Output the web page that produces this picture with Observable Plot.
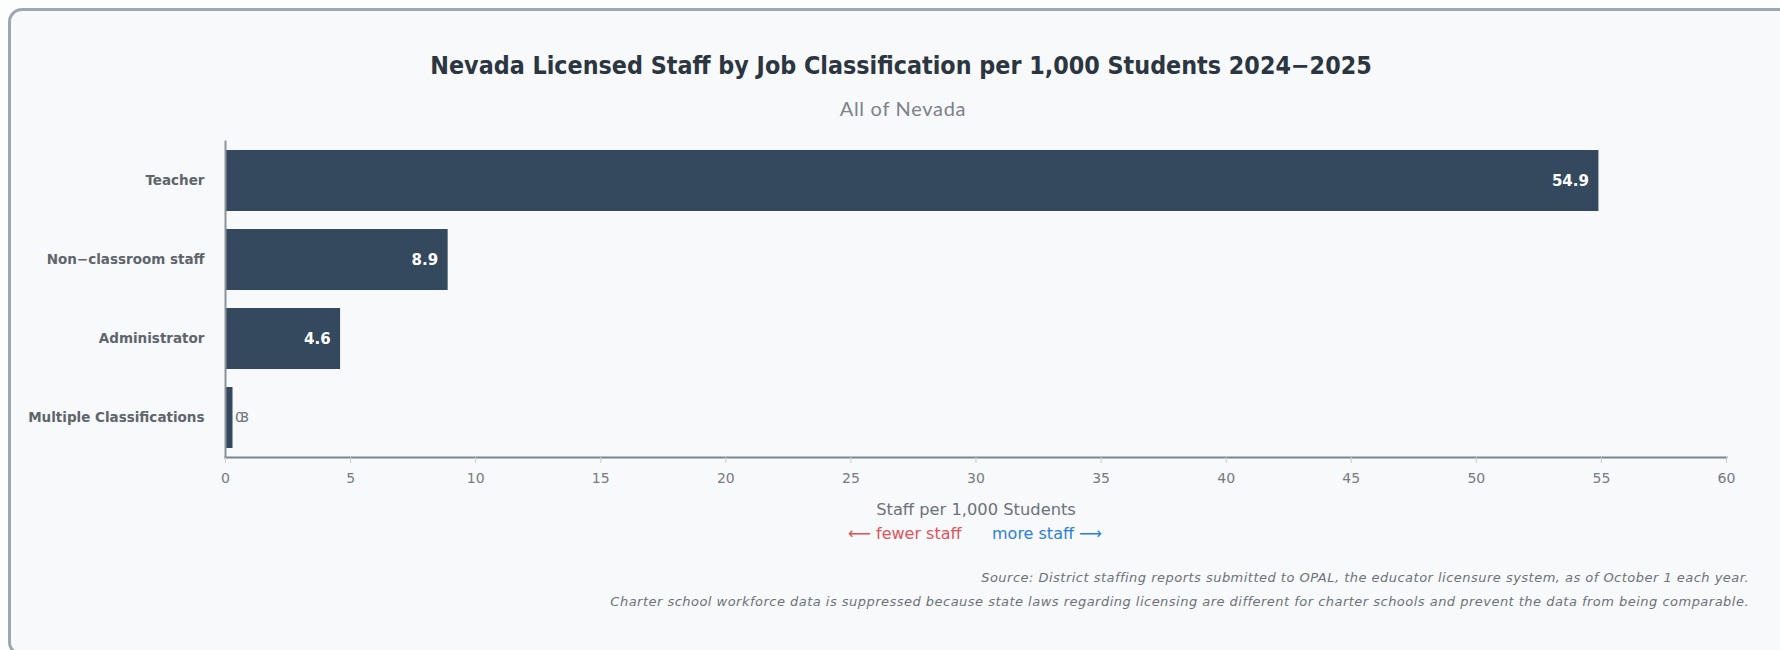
<!DOCTYPE html>
<html><head><meta charset="utf-8">
<script src="https://cdn.jsdelivr.net/npm/d3@7"></script>
<script src="https://cdn.jsdelivr.net/npm/@observablehq/plot@0.6"></script>
<style>
html,body{margin:0;padding:0;background:#fcfdfd;width:1780px;height:650px;overflow:hidden}
#card{position:absolute;left:8px;top:8px;width:1790px;height:648px;box-sizing:border-box;border:3px solid #a0a6ad;border-radius:14px;background:#f8f9fa}
.t{position:absolute;left:0;width:1780px;white-space:nowrap}
#title{top:51px;text-align:center;left:11px;font:bold 24.8px "DejaVu Sans Condensed","DejaVu Sans";color:#2c3640}
#sub{top:96px;text-align:center;left:13px;font:20px Lato;letter-spacing:.7px;color:#7c828a}
#dir{top:524px;left:0;font:16px "DejaVu Sans";}
#dir span{position:absolute;white-space:nowrap}
.c{font:italic 13px "DejaVu Sans";letter-spacing:.48px;color:#6c7279;text-align:right;left:auto;right:31px;width:auto}
#plot{position:absolute;left:0;top:121px}
.squeezed{letter-spacing:-4px}
</style></head><body>
<div id="card"></div>
<div class="t" id="title">Nevada Licensed Staff by Job Classification per 1,000 Students 2024−2025</div>
<div class="t" id="sub">All of Nevada</div>
<div id="plot"></div>
<div class="t" id="dir"><span style="left:848px;color:#e0535c">⟵ fewer staff</span><span style="left:992px;color:#2b7fd6">more staff ⟶</span></div>
<div class="t c" style="top:570px">Source: District staffing reports submitted to OPAL, the educator licensure system, as of October 1 each year.</div>
<div class="t c" style="top:594px">Charter school workforce data is suppressed because state laws regarding licensing are different for charter schools and prevent the data from being comparable.</div>
<script>
const categories = ["Teacher","Non−classroom staff","Administrator","Multiple Classifications"];
const values = [54.9,8.9,4.6,0.3];
const xTicks = [0,5,10,15,20,25,30,35,40,45,50,55,60];
const rows = categories.map((c,i)=>({c,v:values[i]}));
const chart = Plot.plot({
  width:1780,height:400,marginLeft:225,marginRight:54,marginTop:20,marginBottom:64,
  style:{background:"transparent",fontFamily:"DejaVu Sans",fontSize:"13.5px",color:"#6c7279",overflow:"visible"},
  x:{domain:[0,60]},
  y:{domain:categories,paddingInner:0.23,paddingOuter:0.115,label:null},
  marks:[
    Plot.barX(rows,{x:"v",y:"c",fill:"#34495e"}),
    Plot.frame({anchor:"left",stroke:"#8a939c",strokeWidth:2}),
    Plot.frame({anchor:"bottom",stroke:"#7d858e",strokeWidth:2}),
    Plot.axisX({ticks:xTicks,tickSize:6,tickPadding:10,stroke:"#c8ccd0",fill:"#757b82",fontSize:14,label:null}),
    Plot.axisX({ticks:[],fill:"#6c7279",fontSize:16.3,label:"Staff per 1,000 Students",labelAnchor:"center",labelArrow:"none",labelOffset:57}),
    Plot.axisY({tickSize:0,tickPadding:21,fontWeight:"bold",fill:"#5f656c",fontSize:13.5,label:null}),
    Plot.text(rows.filter(d=>d.v>=1),{x:"v",y:"c",text:d=>d.v.toFixed(1),textAnchor:"end",dx:-10,fill:"white",fontWeight:"bold",fontSize:15}),
    Plot.text(rows.filter(d=>d.v<1),{x:"v",y:"c",text:d=>d.v.toFixed(1),textAnchor:"start",dx:2,fill:"#6c7279",fontSize:14,className:"squeezed"})
  ]
});
document.getElementById("plot").append(chart);
</script>
</body></html>
